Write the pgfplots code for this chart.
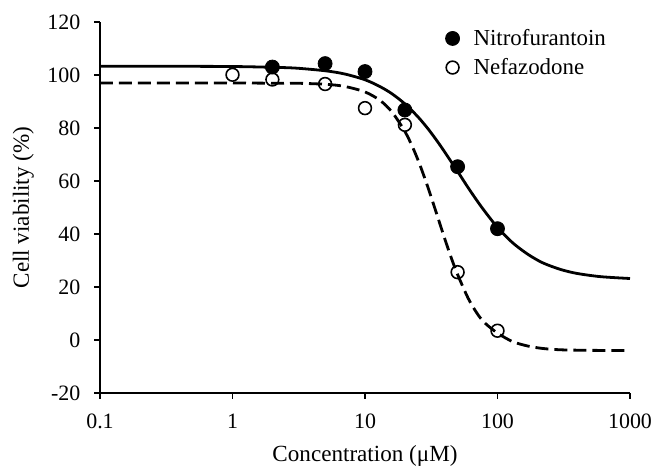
\documentclass[border=0pt]{standalone}
\usepackage{fontspec}
\setmainfont{Liberation Serif}
\usepackage{pgfplots}
\pgfplotsset{compat=1.18}
\newcommand{\fs}{\fontsize{11}{13}\selectfont}

\begin{document}
\begin{tikzpicture}
  \begin{axis}[
    scale only axis,
    width  = 265bp,
    height = 185.5bp,
    xmode = log,
    xmin = 0.1, xmax = 1000,
    ymin = -20, ymax = 120,
    axis x line* = bottom,
    axis y line* = left,
    axis line style = {line width=0.9bp},
    xtick = {0.1,1,10,100,1000},
    xticklabels = {0.1,1,10,100,1000},
    ytick = {-20,0,20,40,60,80,100,120},
    yticklabels = {-20,0,20,40,60,80,100,120},
    xminorticks = false,
    yminorticks = false,
    tick align = outside,
    major tick length = 2.8bp,
    tick style = {line width=0.8bp, black},
    ticklabel style = {font=\fs},
    xticklabel style = {yshift=-4bp},
    yticklabel style = {xshift=-3.5bp},
    xlabel = {Concentration (μM)},
    ylabel = {Cell viability (\%)},
    xlabel style = {yshift=-1.5bp},
    label style = {font=\fontsize{11.6}{13}\selectfont},
    legend style = {at={(0.64,1.004)}, anchor=north west, draw=none, fill=none,
                    font=\fontsize{11.5}{13}\selectfont, row sep=1bp,
                    /tikz/every odd column/.append style={column sep=5bp}},
    legend cell align = left,
    clip = false,
  ]
    % fitted curves
    \addplot[black, line width=1.4bp, smooth, forget plot] coordinates {
      (0.1,103.3)(0.3,103.3)(1,103.2)(2,102.9)(3,102.6)(5,101.6)(7,100.4)
      (10,98.2)(13,95.6)(16,92.9)(20,89.1)(25,84.3)(30,79.6)(35,75.1)
      (40,70.9)(50,63.6)(60,57.5)(70,52.6)(80,48.6)(100,42.5)(130,36.7)
      (170,32.3)(220,29.1)(300,26.6)(400,25.1)(600,23.9)(1000,23.2)};
    \addplot[black, line width=1.4bp, smooth, dash pattern=on 6.5bp off 3bp,
             forget plot] coordinates {
      (0.1,97.0)(0.3,97.0)(1,97.0)(2,96.9)(3,96.9)(5,96.5)(7,95.7)
      (10,93.6)(13,90.4)(16,86.0)(20,78.7)(23,72.5)(26,66.0)(30,57.3)
      (35,47.1)(40,38.2)(45,30.7)(50,24.7)(60,15.8)(70,10.1)(80,6.5)
      (100,2.6)(130,-0.6)(170,-2.3)(220,-3.2)(300,-3.7)(500,-3.9)(1000,-4.0)};

    % measured points
    \addplot[only marks, mark=*, mark size=3.5bp, black,
             mark options={fill=black}] coordinates {
      (2,103.0)(5,104.3)(10,101.3)(20,86.8)(50,65.4)(100,42.0)};
    \addlegendentry{Nitrofurantoin}
    \addplot[only marks, mark=o, mark size=3.2bp, black,
             mark options={fill=white, line width=0.8bp}] coordinates {
      (1,100.1)(2,98.3)(5,96.6)(10,87.5)(20,81.2)(50,25.6)(100,3.5)};
    \addlegendentry{Nefazodone}
  \end{axis}
  % page the size of the reference: axis plus fixed margins
  \pgfresetboundingbox
  \path[use as bounding box]
    ([shift={(-50bp,-39.5bp)}]current axis.south west) rectangle
    ([shift={(12bp,11bp)}]current axis.north east);
\end{tikzpicture}
\end{document}
